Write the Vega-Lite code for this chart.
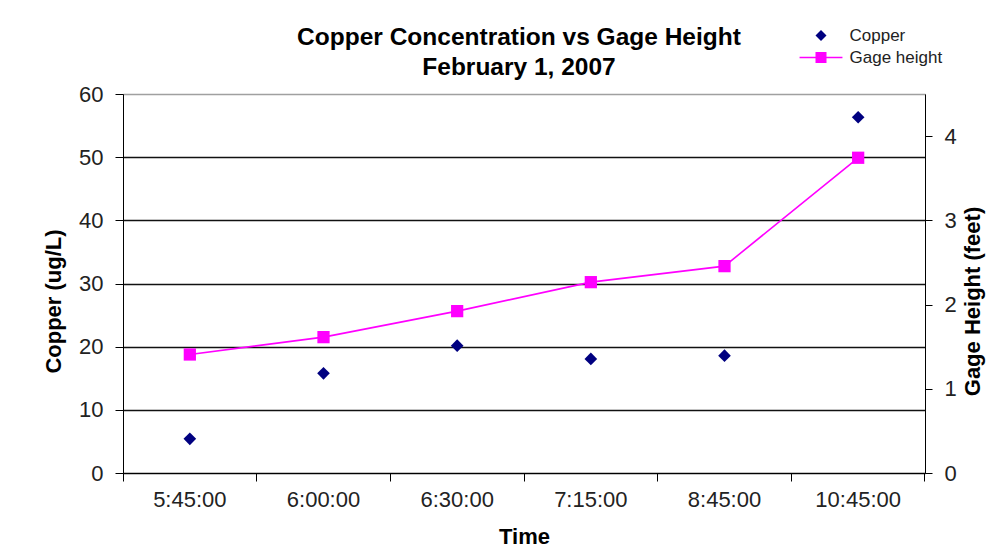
{
  "$schema": "https://vega.github.io/schema/vega-lite/v6.json",
  "width": 802,
  "height": 379,
  "autosize": {"type": "none"},
  "padding": {"left": 123, "top": 94, "right": 73, "bottom": 81},
  "background": "white",
  "config": {"font": "Liberation Sans", "view": {"stroke": "#a0a0a0", "strokeWidth": 1}},
  "title": {
    "text": ["Copper Concentration vs Gage Height", "February 1, 2007"],
    "fontSize": 24.5,
    "fontWeight": "bold",
    "font": "Liberation Sans",
    "color": "black",
    "lineHeight": 30,
    "anchor": "middle",
    "frame": "group",
    "offset": -53,
    "dx": -5
  },
  "data": {
    "values": [
      {"time": "5:45:00", "copper": 5.41, "gage": 1.407},
      {"time": "6:00:00", "copper": 15.78, "gage": 1.613},
      {"time": "6:30:00", "copper": 20.16, "gage": 1.922},
      {"time": "7:15:00", "copper": 18.06, "gage": 2.266},
      {"time": "8:45:00", "copper": 18.58, "gage": 2.456},
      {"time": "10:45:00", "copper": 56.32, "gage": 3.743}
    ]
  },
  "encoding": {
    "x": {
      "field": "time",
      "type": "nominal",
      "sort": null,
      "scale": {"type": "band", "paddingInner": 0, "paddingOuter": 0},
      "axis": {
        "title": "Time",
        "labelAngle": 0,
        "labelFontSize": 22,
        "labelColor": "#222",
        "labelPadding": 8,
        "tickSize": 8,
        "tickColor": "black",
        "domainColor": "black",
        "bandPosition": 1,
        "tickExtra": true,
        "titleFontSize": 22,
        "titleFontWeight": "bold",
        "titleColor": "black",
        "titleBaseline": "middle",
        "titleY": 63
      }
    }
  },
  "layer": [
    {
      "mark": {"type": "point", "shape": "diamond", "filled": true, "size": 160, "opacity": 1},
      "encoding": {
        "y": {
          "field": "copper",
          "type": "quantitative",
          "scale": {"domain": [0, 60], "nice": false},
          "axis": {
            "orient": "left",
            "title": "Copper (ug/L)",
            "values": [0, 10, 20, 30, 40, 50, 60],
            "tickSize": 8,
            "tickColor": "black",
            "domainColor": "black",
            "labelFontSize": 22,
            "labelColor": "#222",
            "labelPadding": 12,
            "grid": true,
            "gridColor": {"condition": {"test": "datum.value === 60", "value": "#a0a0a0"}, "value": "#111"},
            "gridWidth": 1.4,
            "titleFontSize": 22,
            "titleFontWeight": "bold",
            "titleColor": "black",
            "titleAngle": 270,
            "titleBaseline": "middle",
            "titleX": -70,
            "titleY": 207
          }
        },
        "color": {
          "datum": "Copper",
          "scale": {"domain": ["Copper"], "range": ["#000080"]},
          "legend": {
            "orient": "none",
            "legendX": 689.5,
            "legendY": -67,
            "title": null,
            "padding": 0,
            "labelFontSize": 17,
            "labelColor": "#222",
            "labelOffset": 20,
            "symbolSize": 121,
            "symbolType": "diamond",
            "symbolOpacity": 1
          }
        }
      }
    },
    {
      "mark": {
        "type": "line",
        "strokeWidth": 1.6,
        "point": {"shape": "square", "size": 150, "filled": true, "opacity": 1}
      },
      "encoding": {
        "y": {
          "field": "gage",
          "type": "quantitative",
          "scale": {"domain": [0, 4.5], "nice": false},
          "axis": {
            "orient": "right",
            "title": "Gage Height (feet)",
            "values": [0, 1, 2, 3, 4],
            "grid": false,
            "tickSize": 7,
            "tickColor": "black",
            "domainColor": "black",
            "labelFontSize": 22,
            "labelColor": "#222",
            "labelPadding": 12,
            "titleFontSize": 22,
            "titleFontWeight": "bold",
            "titleColor": "black",
            "titleAngle": 270,
            "titleBaseline": "middle",
            "titleX": 47,
            "titleY": 207
          }
        },
        "color": {
          "datum": "Gage height",
          "scale": {"domain": ["Gage height"], "range": ["#FF00FF"]},
          "legend": {
            "orient": "none",
            "legendX": 689.5,
            "legendY": -45,
            "title": null,
            "padding": 0,
            "labelFontSize": 17,
            "labelColor": "#222",
            "labelOffset": 20,
            "symbolSize": 121,
            "symbolType": "M-3.9,-0.14L3.9,-0.14L3.9,0.14L-3.9,0.14ZM-1,-1L1,-1L1,1L-1,1Z",
            "symbolFillColor": "#FF00FF",
            "symbolStrokeColor": "#FF00FF",
            "symbolStrokeWidth": 0,
            "symbolOpacity": 1
          }
        }
      }
    }
  ],
  "resolve": {
    "scale": {"y": "independent", "color": "independent"},
    "legend": {"color": "independent"}
  }
}
